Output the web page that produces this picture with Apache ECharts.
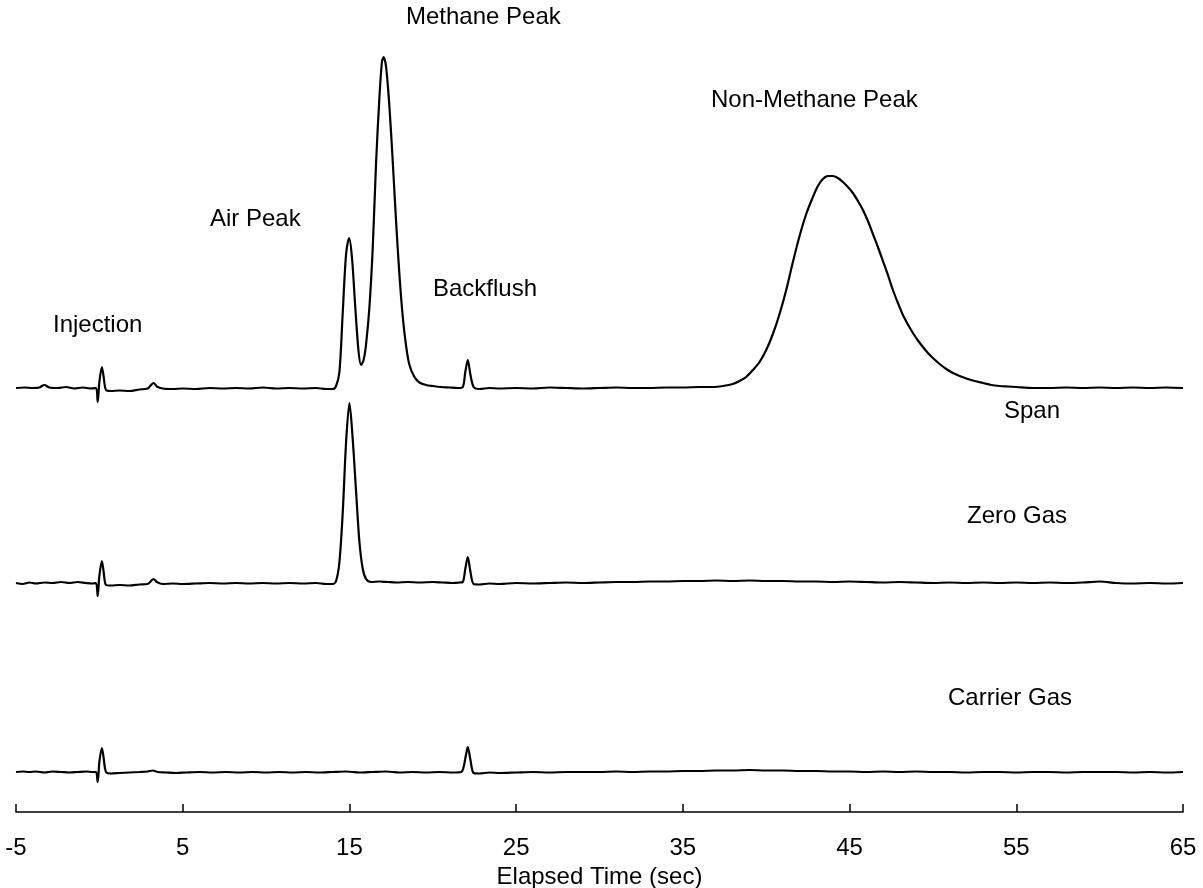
<!DOCTYPE html>
<html>
<head>
<meta charset="utf-8">
<script src="https://cdn.jsdelivr.net/npm/echarts@6/dist/echarts.min.js"></script>
<style>
  html, body { margin: 0; padding: 0; background: #fff; }
  #main { width: 1203px; height: 888px; }
</style>
</head>
<body>
<div id="main"></div>
<script>
// 数据：[时间(sec), 信号(任意单位)]
var span = [
  [-5,424],[-4.5,424.5],[-4,424],[-3.6,424.5],[-3.3,427],[-3,424.5],[-2.5,424],[-2,425],[-1.5,423.5],[-1,424.5],[-0.5,423.5],[-0.2,424],
  [-0.1,410],[0,430],[0.15,445],[0.25,436],[0.4,422],[0.7,421],[1.2,421.5],[1.8,421],[2.4,422.5],[2.9,423.5],[3.1,427],[3.25,429],[3.45,425.5],
  [3.8,423.5],[4.4,423],[5,423.5],[5.8,423],[6.6,424],[7.4,423.5],[8.2,424],[9,423.5],[9.8,424.5],[10.6,423.5],[11.4,424],[12.2,423.5],[13,424],
  [13.6,423],[14.0,423],[14.2,426],[14.4,440],[14.6,500],[14.8,558],[14.98,574],[15.15,555],[15.35,505],[15.55,460],[15.7,447],[15.85,452],
  [16.0,468],[16.2,505],[16.4,565],[16.6,650],[16.8,715],[16.95,750],[17.05,755],[17.2,745],[17.4,705],[17.6,650],[17.8,590],[18.0,537],
  [18.2,495],[18.4,466],[18.6,447],[18.9,435],[19.2,429.5],[19.6,427],[20.0,426],[20.5,425],[21.0,424.5],[21.5,424],[21.8,425],[21.95,440],
  [22.1,452],[22.25,438],[22.45,425],[22.8,423],[23.4,424],[24,423.5],[25,424],[26,423.5],[27,424.5],[28,424],[29,423.5],[30,424],[31,424.5],
  [32,424],[33,424],[34,424.5],[35,424.5],[36,425],[36.8,425],[37.4,426],[38.0,428],[38.4,431],[38.8,435],[39.2,442],[39.6,450],[40.0,462],
  [40.4,478],[40.8,498],[41.2,522],[41.6,550],[42.0,576],[42.4,598],[42.8,615],[43.1,626],[43.4,633],[43.7,636],[44.0,636],[44.3,634],
  [44.6,630],[44.9,625],[45.2,619],[45.5,611],[45.8,602],[46.1,591],[46.4,578],[46.7,565],[47.0,551],[47.3,537],[47.6,522],[47.9,509],
  [48.2,497],[48.5,487.5],[48.8,479],[49.1,471.5],[49.4,465],[49.7,459],[50.0,454],[50.4,448],[50.8,443],[51.2,439],[51.6,436],[52.0,433.5],
  [52.5,431],[53.0,429],[53.5,427],[54.0,426],[54.5,425.5],[55.0,425],[56,424],[57,424],[58,424.5],[59,424],[60,424.5],[61,424],[62,424.5],
  [63,424],[64,424.5],[65,424]
];
var zeroGas = [
  [-5,229],[-4.6,228],[-4.2,229.5],[-3.8,228.5],[-3.3,229.5],[-2.8,229],[-2.3,230],[-1.8,229],[-1.3,230],[-0.8,229],[-0.4,228.5],[-0.2,229],
  [-0.1,216],[0,236],[0.15,251],[0.25,241],[0.4,227],[0.7,226.5],[1.2,227],[1.8,226.5],[2.4,227.5],[2.9,228],[3.1,231],[3.25,233],[3.45,230],
  [3.8,228],[4.4,228.5],[5,228],[5.8,228.5],[6.6,229],[7.4,228.5],[8.2,229],[9,228.5],[9.8,229],[10.6,228.5],[11.4,229],[12.2,228.5],[13,229],
  [13.6,228],[14.0,228],[14.2,231],[14.4,250],[14.6,300],[14.8,370],[15.0,409],[15.2,372],[15.4,320],[15.6,270],[15.8,243],[16.0,233],
  [16.3,230],[16.8,230.5],[17.3,230],[17.8,229.5],[18.5,230],[19.2,229.5],[20,230],[20.6,229.5],[21.2,229],[21.6,229.5],[21.8,230],[21.95,243],
  [22.1,255],[22.25,241],[22.45,228],[22.8,227.5],[23.4,228.5],[24,228],[25,229],[26,228.5],[27,229],[28,229.5],[29,229],[30,229.5],[31,230],
  [32,230],[33,230.5],[34,230.5],[35,231],[36,231],[37,231.5],[38,231],[39,231.5],[40,231],[41,231],[42,230.5],[43,230.5],[44,230],[45,230.5],
  [46,230],[47,229.5],[48,230],[49,229.5],[50,229],[51,229.5],[52,229],[53,229.5],[54,229],[55,229.5],[56,229],[57,229.5],[58,229],[59,229.5],
  [60,230.5],[61,229],[62,228.5],[63,229],[64,228.5],[65,229]
];
var carrierGas = [
  [-5,40],[-4.6,40.5],[-4.2,40],[-3.8,40.5],[-3.3,39.5],[-2.8,40.5],[-2.3,40],[-1.8,39.5],[-1.3,40],[-0.8,40.5],[-0.4,40],[-0.2,40],
  [-0.1,30],[0,50],[0.15,64],[0.25,55],[0.4,40],[0.7,38.5],[1.2,39],[1.8,39.5],[2.4,40],[2.9,40.5],[3.2,41.5],[3.5,40],[4,39.5],[4.6,39],
  [5.2,39.5],[6,40],[6.8,39.5],[7.6,40],[8.4,39.5],[9.2,40],[10,39.5],[10.8,40],[11.6,39.5],[12.4,40],[13.2,39.5],[14,40],[14.8,40.5],
  [15.6,39.5],[16.4,40],[17.2,40.5],[18,39.5],[18.8,40],[19.6,39.5],[20.4,40],[21.2,39.5],[21.7,40],[21.85,45],[22.0,58],[22.1,65],[22.25,53],
  [22.45,39],[22.8,38.5],[23.4,39.5],[24,39],[25,39.5],[26,40],[27,39.5],[28,40],[29,40],[30,40],[31,40.5],[32,40],[33,40.5],[34,40.5],
  [35,41],[36,41],[37,41.5],[38,41.5],[39,42],[40,41.5],[41,41.5],[42,41],[43,41],[44,40.5],[45,40.5],[46,40],[47,40.5],[48,40],[49,40.5],
  [50,40],[51,40],[52,39.5],[53,40],[54,40],[55,39.5],[56,40],[57,40],[58,39.5],[59,40],[60,40],[61,40],[62,39.5],[63,40],[64,39.5],[65,40]
];

var xMin = -5, xMax = 65, xStep = 10;
var labelFont = '"Liberation Sans", Arial, sans-serif';

var myChart = echarts.init(document.getElementById('main'));

// 图中文字标注
var notes = [
  ['Methane Peak', 406, 17],
  ['Non-Methane Peak', 711, 100],
  ['Air Peak', 210, 219],
  ['Backflush', 433, 289],
  ['Injection', 53, 325],
  ['Span', 1004, 411],
  ['Zero Gas', 967, 516],
  ['Carrier Gas', 948, 698]
];

function lineSeries(name, data) {
  return {
    name: name,
    type: 'line',
    data: data,
    showSymbol: false,
    smooth: 0.3,
    animation: false,
    lineStyle: { color: '#000', width: 2.2 }
  };
}

var option = {
  backgroundColor: '#fff',
  animation: false,
  grid: { left: 16, right: 20, top: 40, height: 772, outerBoundsMode: 'none', containLabel: false },
  xAxis: {
    type: 'value',
    min: xMin,
    max: xMax,
    interval: xStep,
    name: 'Elapsed Time (sec)',
    nameLocation: 'middle',
    nameGap: 52,
    nameTextStyle: { color: '#000', fontSize: 24, fontFamily: labelFont },
    axisLine: { show: true, lineStyle: { color: '#000', width: 1.5 } },
    axisTick: { show: true, inside: true, length: 8, lineStyle: { color: '#000', width: 1.5 } },
    axisLabel: { color: '#000', fontSize: 24, fontFamily: labelFont, margin: 24, showMinLabel: true, showMaxLabel: true },
    splitLine: { show: false }
  },
  yAxis: {
    type: 'value',
    show: false,
    min: 0,
    max: 772
  },
  graphic: notes.map(function (n) {
    return {
      type: 'text',
      left: n[1],
      top: n[2] - 12,
      style: { text: n[0], fill: '#000', font: '24px ' + labelFont }
    };
  }),
  series: [
    lineSeries('Span', span),
    lineSeries('Zero Gas', zeroGas),
    lineSeries('Carrier Gas', carrierGas)
  ]
};
myChart.setOption(option);
</script>
</body>
</html>
